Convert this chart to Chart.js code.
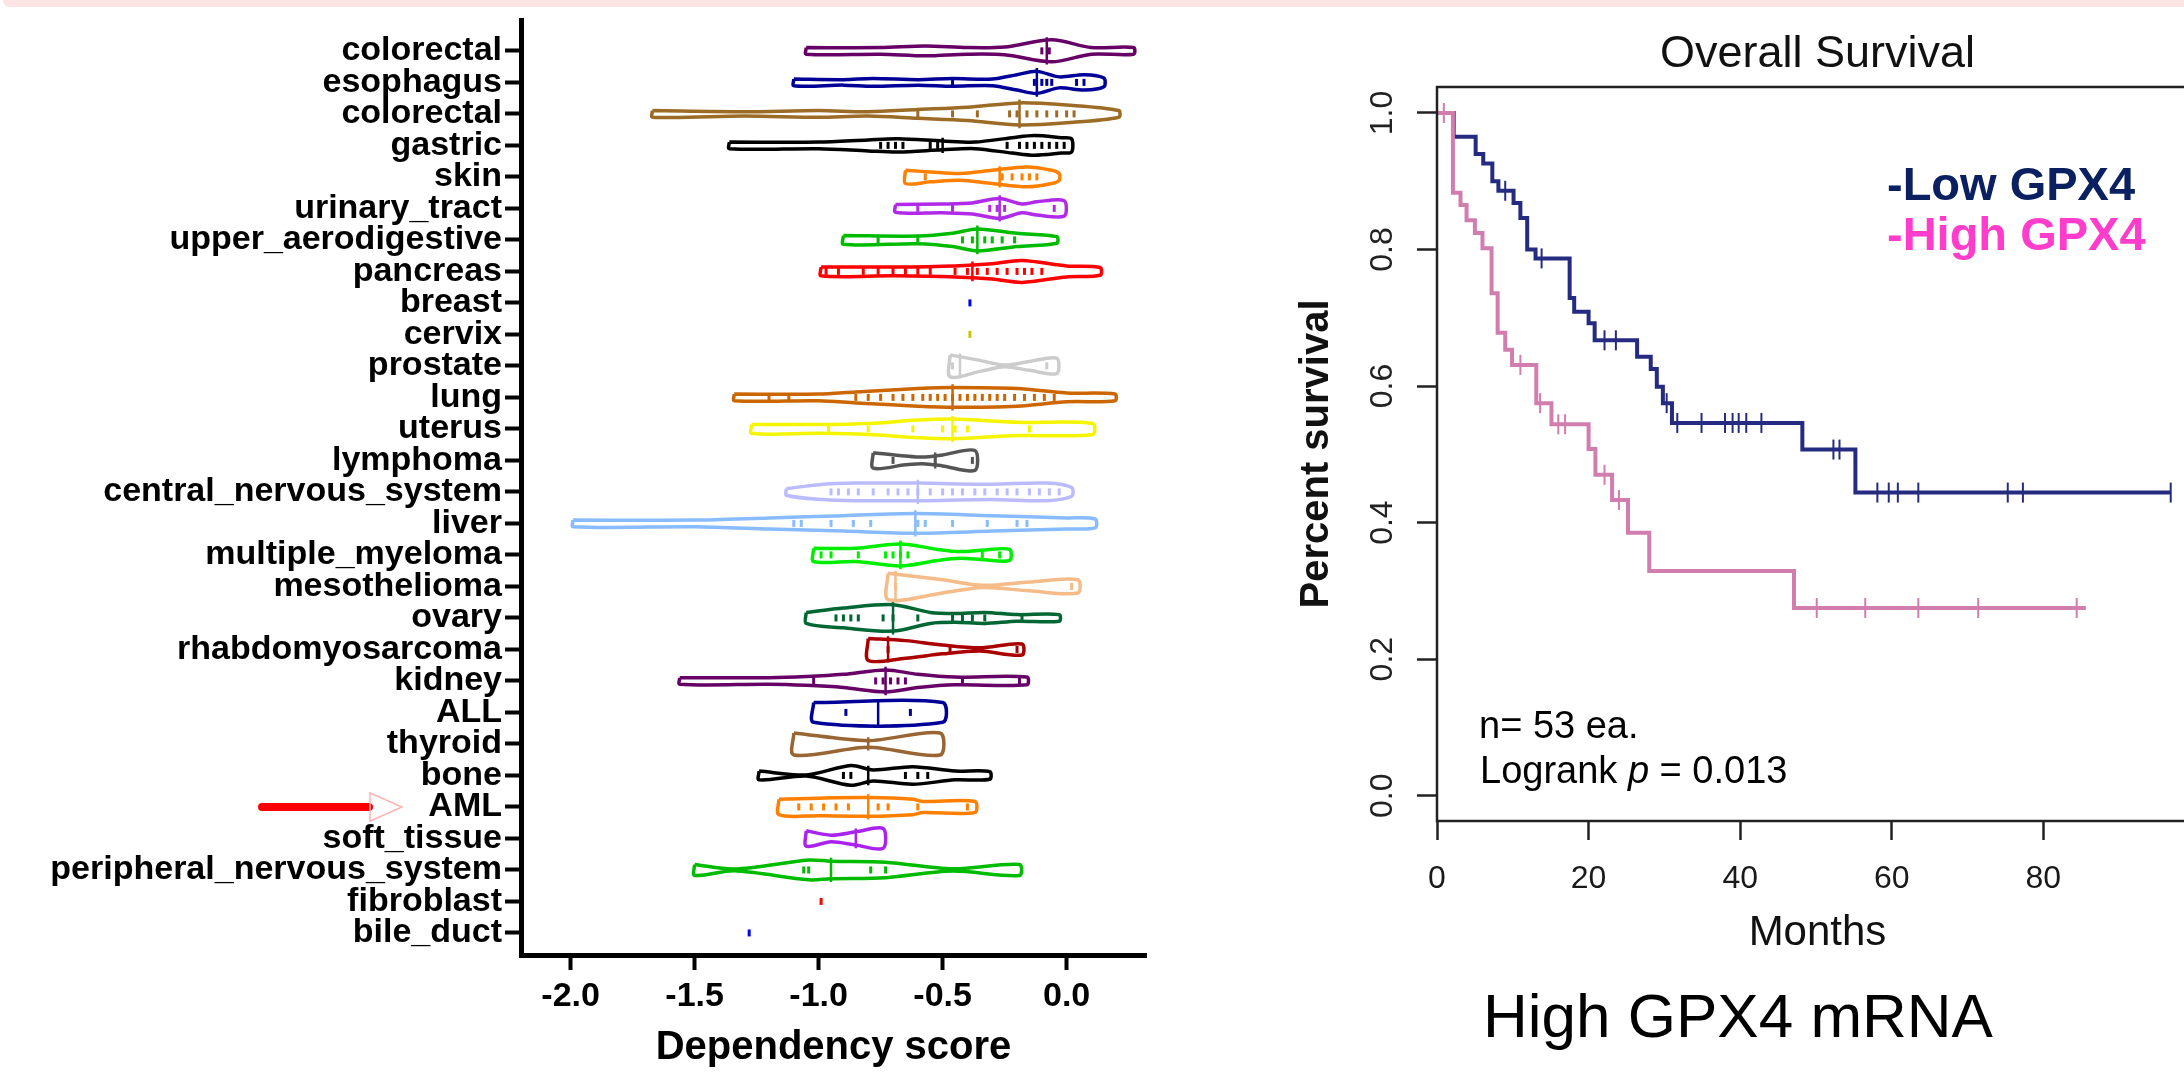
<!DOCTYPE html>
<html>
<head>
<meta charset="utf-8">
<script src="https://cdn.jsdelivr.net/npm/chart.js@4.4.0/dist/chart.umd.min.js"></script>
<style>
  html, body { margin: 0; padding: 0; background: #fff; overflow: hidden; }
  #page { position: relative; width: 2184px; height: 1072px; overflow: hidden; font-family: "Liberation Sans", Arial, sans-serif; }
  .band { position: absolute; left: 3px; top: 0; width: 2181px; height: 7px; background: #fde4e4; border-bottom-left-radius: 10px; }
  #violin { position: absolute; left: 0; top: 0; width: 1160px; height: 1072px; }
  #km { position: absolute; left: 1240px; top: 0; width: 970px; height: 1072px; }
  .note { position: absolute; white-space: nowrap; line-height: 1; color: #000; }
</style>
</head>
<body>
<div id="page">
  <div class="band"></div>
  <canvas id="violin" width="1160" height="1072"></canvas>
  <canvas id="km" width="970" height="1072"></canvas>
  <svg style="position:absolute;left:0;top:0" width="520" height="1072">
    <line x1="262" y1="807" x2="369" y2="807" stroke="#ff0000" stroke-width="8" stroke-linecap="round"/>
    <polygon points="370,793 402,807 370,821" fill="none" stroke="#ffb4b4" stroke-width="1.5"/>
  </svg>
  <div class="note" style="left:1479px;top:706px;font-size:38px;">n= 53 ea.</div>
  <div class="note" style="left:1480px;top:751px;font-size:38px;">Logrank <i>p</i> = 0.013</div>
  <div class="note" style="left:1887px;top:160px;font-size:47px;font-weight:bold;color:#0a2060;">-Low GPX4</div>
  <div class="note" style="left:1887px;top:210px;font-size:47px;font-weight:bold;color:#ff3ccc;">-High GPX4</div>
  <div class="note" style="left:1483px;top:985px;font-size:62px;">High GPX4 mRNA</div>
</div>
<script>
Chart.defaults.font.family = '"Liberation Sans", Arial, sans-serif';
Chart.defaults.color = '#000';

// ---- left panel: dependency score by lineage ----
const categories = ["colorectal", "esophagus", "colorectal", "gastric", "skin", "urinary_tract",
  "upper_aerodigestive", "pancreas", "breast", "cervix", "prostate", "lung", "uterus", "lymphoma",
  "central_nervous_system", "liver", "multiple_myeloma", "mesothelioma", "ovary", "rhabdomyosarcoma",
  "kidney", "ALL", "thyroid", "bone", "AML", "soft_tissue", "peripheral_nervous_system",
  "fibroblast", "bile_duct"];

const medians = [-0.08, -0.12, -0.19, -0.5, -0.27, -0.27, -0.36, -0.38, null, null, -0.43, -0.46,
  -0.46, -0.53, -0.6, -0.61, -0.67, -0.69, -0.7, -0.72, -0.73, -0.76, -0.8, -0.8, -0.8, -0.85,
  -0.95, null, null];

// violin outline: [score, relative density]
const densities = [
  [[-1.05, 3], [-0.75, 3], [-0.57, 4.5], [-0.4, 3], [-0.25, 3.5], [-0.06, 10], [0.1, 3], [0.27, 3]],
  [[-1.1, 3], [-0.9, 2.5], [-0.78, 3.5], [-0.6, 2.5], [-0.46, 3.5], [-0.3, 3], [-0.2, 7], [-0.12, 10], [-0.03, 5], [0.07, 7], [0.15, 4]],
  [[-1.67, 3], [-1.3, 2], [-1.0, 3], [-0.8, 2], [-0.6, 4], [-0.4, 6], [-0.19, 10], [0.0, 8], [0.21, 3]],
  [[-1.36, 3], [-1.0, 3], [-0.8, 5], [-0.68, 6], [-0.5, 4], [-0.37, 3], [-0.22, 7], [-0.13, 9], [-0.02, 7], [0.02, 6]],
  [[-0.65, 6], [-0.55, 4.5], [-0.43, 3], [-0.3, 6], [-0.16, 9], [-0.06, 6], [-0.03, 3]],
  [[-0.69, 3.5], [-0.5, 4], [-0.38, 5], [-0.27, 9], [-0.18, 4], [-0.12, 6], [-0.01, 7]],
  [[-0.9, 4], [-0.6, 3.5], [-0.46, 6], [-0.36, 10], [-0.2, 6], [-0.04, 3]],
  [[-0.99, 4], [-0.7, 4], [-0.45, 5], [-0.3, 7], [-0.18, 10], [0.0, 5], [0.135, 3.5]],
  null,
  null,
  [[-0.47, 10], [-0.35, 5], [-0.25, 0.8], [-0.15, 4], [-0.04, 7]],
  [[-1.34, 3], [-1.0, 3], [-0.85, 5], [-0.6, 8], [-0.46, 9], [-0.2, 8], [0.0, 4], [0.195, 3]],
  [[-1.27, 4], [-1.0, 4], [-0.8, 5], [-0.6, 8], [-0.46, 9], [-0.2, 6], [0.105, 5]],
  [[-0.78, 7], [-0.65, 4], [-0.58, 3], [-0.5, 5], [-0.37, 9]],
  [[-1.13, 3], [-0.98, 7], [-0.85, 8], [-0.6, 8], [-0.3, 7], [-0.08, 8], [0.02, 4]],
  [[-1.99, 3], [-1.5, 3], [-1.2, 5], [-0.9, 7], [-0.61, 9], [-0.3, 7], [0.0, 5], [0.115, 4]],
  [[-1.02, 6], [-0.85, 6], [-0.67, 10], [-0.52, 5], [-0.43, 3], [-0.33, 4.5], [-0.23, 5]],
  [[-0.72, 12], [-0.5, 6], [-0.34, 1], [-0.15, 4], [0.045, 6]],
  [[-1.05, 5], [-0.9, 9], [-0.7, 12], [-0.55, 5], [-0.45, 4], [-0.33, 5], [-0.2, 3], [-0.03, 3]],
  [[-0.8, 10], [-0.65, 8], [-0.5, 4], [-0.35, 1.5], [-0.18, 5]],
  [[-1.56, 3], [-1.2, 3], [-1.05, 4], [-0.9, 6], [-0.73, 10], [-0.6, 6], [-0.45, 3.5], [-0.16, 3.5]],
  [[-1.02, 9], [-0.5, 9]],
  [[-1.1, 10], [-0.8, 3], [-0.51, 10]],
  [[-1.24, 4], [-1.05, 0.5], [-0.87, 9], [-0.78, 5], [-0.62, 8], [-0.45, 4], [-0.31, 3.5]],
  [[-1.16, 7], [-1.0, 8], [-0.8, 8.5], [-0.62, 7], [-0.58, 5], [-0.37, 5]],
  [[-1.05, 7], [-0.95, 3], [-0.85, 6], [-0.74, 9]],
  [[-1.5, 5], [-1.34, 0.8], [-1.04, 9], [-0.95, 8], [-0.73, 7], [-0.46, 1], [-0.19, 5]],
  null,
  null
];

const cellLines = [
  [-0.1, -0.07],
  [-0.46, -0.13, -0.1, -0.08, -0.06, 0.04, 0.07],
  [-0.6, -0.46, -0.36, -0.23, -0.2, -0.16, -0.12, -0.08, -0.04, 0.0, 0.03],
  [-0.75, -0.72, -0.69, -0.66, -0.55, -0.52, -0.24, -0.19, -0.16, -0.13, -0.1, -0.07, -0.04, -0.01],
  [-0.57, -0.26, -0.22, -0.18, -0.15, -0.12],
  [-0.6, -0.46, -0.31, -0.28, -0.25, -0.05],
  [-0.76, -0.6, -0.42, -0.38, -0.33, -0.3, -0.26, -0.21],
  [-0.97, -0.92, -0.82, -0.76, -0.7, -0.65, -0.6, -0.55, -0.45, -0.4, -0.36, -0.32, -0.28, -0.24, -0.2, -0.17, -0.14, -0.1],
  [-0.39],
  [-0.39],
  [-0.46, -0.08],
  [-1.2, -1.12, -0.85, -0.8, -0.75, -0.7, -0.66, -0.62, -0.58, -0.55, -0.52, -0.49, -0.46, -0.43, -0.4, -0.37, -0.34, -0.31, -0.28, -0.25, -0.21, -0.17, -0.13, -0.09, -0.05],
  [-0.96, -0.8, -0.62, -0.5, -0.45, -0.4, -0.15],
  [-0.7, -0.53, -0.38],
  [-0.95, -0.92, -0.88, -0.84, -0.78, -0.72, -0.68, -0.64, -0.6, -0.55, -0.5, -0.46, -0.42, -0.37, -0.33, -0.28, -0.24, -0.2, -0.15, -0.11, -0.07, -0.03],
  [-1.1, -1.07, -0.95, -0.86, -0.79, -0.6, -0.57, -0.46, -0.32, -0.2, -0.16],
  [-0.99, -0.95, -0.84, -0.73, -0.7, -0.67, -0.64, -0.34, -0.27],
  [-0.69, 0.02],
  [-0.93, -0.9, -0.87, -0.84, -0.74, -0.7, -0.6, -0.46, -0.42, -0.38, -0.33, -0.18],
  [-0.72, -0.47, -0.2],
  [-1.02, -0.77, -0.74, -0.71, -0.68, -0.65, -0.42, -0.19],
  [-0.89, -0.63],
  [],
  [-0.9, -0.87, -0.65, -0.6, -0.56],
  [-1.08, -1.03, -0.98, -0.93, -0.88, -0.76, -0.72, -0.6, -0.4],
  [],
  [-1.06, -1.04, -0.79, -0.73],
  [-0.99],
  [-1.28]
];

const scoreTicks = [-2.0, -1.5, -1.0, -0.5, 0.0];

const lineageColors = ["#660066", "#000099", "#9c6b25", "#000000", "#ff8000", "#b02ae8", "#00bb00",
  "#ff0000", "#0000ff", "#c8c800", "#cccccc", "#cc6600", "#f5f500", "#555555", "#bbbbff", "#88bbff",
  "#00ee00", "#f5bb88", "#006633", "#aa0000", "#660066", "#000099", "#996633", "#000000", "#ff8000",
  "#aa22ee", "#00bb00", "#ff0000", "#0000ff"];

const rowScale = 1.1 / 31.5;

function widthAt(prof, v) {
  for (let j = 1; j < prof.length; j++) {
    if (v <= prof[j][0]) {
      const [v0, d0] = prof[j - 1];
      const [v1, d1] = prof[j];
      return d0 + (d1 - d0) * (v - v0) / (v1 - v0);
    }
  }
  return prof[prof.length - 1][1];
}

const violinSets = [];
categories.forEach((name, i) => {
  const prof = densities[i];
  const color = lineageColors[i];
  if (prof) {
    const upper = prof.map(([v, d]) => ({x: v, y: i - d * rowScale}));
    const lower = prof.slice().reverse().map(([v, d]) => ({x: v, y: i + d * rowScale}));
    violinSets.push({
      data: [...upper, ...lower, upper[0]],
      showLine: true, borderColor: color, borderWidth: 3.5, tension: 0.3,
      pointRadius: 0, fill: false
    });
    const h = (widthAt(prof, medians[i]) + 3) * rowScale;
    violinSets.push({
      data: [{x: medians[i], y: i - h}, {x: medians[i], y: i + h}],
      showLine: true, borderColor: color, borderWidth: 2.5, pointRadius: 0
    });
  }
  violinSets.push({
    data: cellLines[i].map(v => ({x: v, y: i})),
    pointStyle: 'line', rotation: 90, pointRadius: 3.5,
    borderColor: color, pointBorderWidth: 3, borderWidth: 3
  });
});

new Chart(document.getElementById('violin'), {
  type: 'scatter',
  data: {datasets: violinSets},
  options: {
    responsive: false, animation: false, devicePixelRatio: 1,
    layout: {padding: {top: 20, right: 14, bottom: 0, left: 0}},
    plugins: {legend: {display: false}, tooltip: {enabled: false}},
    scales: {
      x: {
        type: 'linear', min: -2.2, max: 0.32,
        afterBuildTicks: s => { s.ticks = scoreTicks.map(v => ({value: v})); },
        afterFit: s => { s.height = 117; s.paddingLeft = 0; s.paddingRight = 0; },
        border: {display: true, width: 5, color: '#000'},
        grid: {drawOnChartArea: false, drawTicks: true, tickLength: 15, tickWidth: 4, tickColor: '#000'},
        ticks: {autoSkip: false, maxRotation: 0, padding: 6, color: '#000',
          font: {size: 34, weight: 'bold'}, callback: v => v.toFixed(1)},
        title: {display: true, text: 'Dependency score', color: '#000',
          font: {size: 40, weight: 'bold'}, padding: {top: 0, bottom: 0}}
      },
      y: {
        type: 'linear', reverse: true, min: -0.98, max: 28.7,
        afterBuildTicks: s => { s.ticks = categories.map((c, i) => ({value: i})); },
        afterFit: s => { s.width = 521; s.paddingTop = 0; s.paddingBottom = 0; },
        border: {display: true, width: 5, color: '#000'},
        grid: {drawOnChartArea: false, drawTicks: true, tickLength: 16, tickWidth: 4, tickColor: '#000'},
        ticks: {autoSkip: false, padding: 3, color: '#000', font: {size: 34, weight: 'bold'},
          callback: v => categories[Math.round(v)]}
      }
    }
  }
});

// ---- right panel: overall survival ----
const lowMonths   = [0, 2.2, 5.1, 6.1, 7.3, 8.1, 10.1, 11.0, 11.9, 13.0, 17.5, 18.1, 20.0, 20.8, 26.4, 28.2, 29.0, 29.8, 31.0, 48.2, 55.2, 96.8];
const lowSurvival = [1.0, 0.965, 0.94, 0.926, 0.90, 0.886, 0.868, 0.846, 0.80, 0.787, 0.729, 0.709, 0.692, 0.667, 0.643, 0.625, 0.599, 0.575, 0.546, 0.507, 0.444, 0.444];
const lowCensored = [9.0, 13.8, 22.1, 23.6, 30.3, 31.7, 34.9, 38.0, 39.0, 39.8, 40.8, 42.8, 52.3, 53.1, 58.1, 59.6, 60.8, 63.5, 75.3, 77.3, 96.8];

const highMonths   = [0, 2.1, 3.1, 3.9, 5.0, 6.0, 7.2, 8.0, 9.0, 9.9, 13.1, 15.1, 20.0, 20.9, 23.1, 25.2, 28.0, 47.1, 85.6];
const highSurvival = [1.0, 0.883, 0.865, 0.843, 0.824, 0.802, 0.736, 0.678, 0.653, 0.631, 0.575, 0.544, 0.508, 0.47, 0.433, 0.385, 0.329, 0.275, 0.275];
const highCensored = [0.9, 11.0, 13.6, 16.0, 16.9, 22.1, 24.0, 50.1, 56.5, 63.5, 71.4, 84.4];

const monthTicks = [0, 20, 40, 60, 80];
const survivalTicks = [0.0, 0.2, 0.4, 0.6, 0.8, 1.0];

const lowColor = '#262b82';
const highColor = '#d17dae';

function levelAt(months, surv, t) {
  let s = surv[0];
  months.forEach((m, i) => { if (m <= t) s = surv[i]; });
  return s;
}

function curve(months, surv, color) {
  return {
    data: months.map((m, i) => ({x: m, y: surv[i]})),
    showLine: true, stepped: 'before', borderColor: color, borderWidth: 4, pointRadius: 0
  };
}
function censors(times, months, surv, color) {
  return {
    data: times.map(t => ({x: t, y: levelAt(months, surv, t)})),
    showLine: false, pointStyle: 'line', rotation: 90, pointRadius: 10,
    borderColor: color, pointBorderWidth: 2, borderWidth: 2
  };
}

const kmFrame = {
  id: 'kmFrame',
  afterDraw(chart) {
    const {ctx, chartArea: a} = chart;
    const ys = chart.scales.y;
    ctx.save();
    ctx.strokeStyle = '#222';
    ctx.lineWidth = 2.5;
    ctx.strokeRect(a.left, a.top, a.right - a.left, a.bottom - a.top);
    ctx.fillStyle = '#222';
    ctx.font = '32px "Liberation Sans", Arial, sans-serif';
    ctx.textAlign = 'center';
    ctx.textBaseline = 'alphabetic';
    ys.ticks.forEach(t => {
      ctx.save();
      ctx.translate(152, ys.getPixelForValue(t.value));
      ctx.rotate(-Math.PI / 2);
      ctx.fillText(t.value.toFixed(1), 0, 0);
      ctx.restore();
    });
    ctx.restore();
  }
};

new Chart(document.getElementById('km'), {
  type: 'scatter',
  data: {
    datasets: [
      curve(highMonths, highSurvival, highColor),
      curve(lowMonths, lowSurvival, lowColor),
      censors(highCensored, highMonths, highSurvival, highColor),
      censors(lowCensored, lowMonths, lowSurvival, lowColor)
    ]
  },
  options: {
    responsive: false, animation: false, devicePixelRatio: 1,
    layout: {padding: 0},
    plugins: {
      legend: {display: false}, tooltip: {enabled: false},
      title: {display: true, text: 'Overall Survival', color: '#111', fullSize: false,
        font: {size: 45, weight: 'normal'}, padding: {top: 28, bottom: 5}}
    },
    scales: {
      x: {
        type: 'linear', min: 0, max: 100.4,
        afterBuildTicks: s => { s.ticks = monthTicks.map(v => ({value: v})); },
        afterFit: s => { s.height = 251; s.paddingLeft = 0; s.paddingRight = 0; },
        border: {display: false},
        grid: {drawOnChartArea: false, drawTicks: true, tickLength: 19, tickWidth: 2.5, tickColor: '#222'},
        ticks: {autoSkip: false, maxRotation: 0, padding: 20, color: '#1a1a1a', font: {size: 32},
          callback: v => String(v)},
        title: {display: true, text: 'Months', color: '#111', font: {size: 42},
          padding: {top: 0, bottom: 113}}
      },
      y: {
        type: 'linear', min: -0.037, max: 1.038,
        afterBuildTicks: s => { s.ticks = survivalTicks.map(v => ({value: v})); },
        afterFit: s => { s.width = 197; s.paddingTop = 0; s.paddingBottom = 0; },
        border: {display: false},
        grid: {drawOnChartArea: false, drawTicks: true, tickLength: 20, tickWidth: 2.5, tickColor: '#222'},
        ticks: {display: false},
        title: {display: true, text: 'Percent survival', color: '#111',
          font: {size: 40, weight: 'bold'}, padding: {top: 53, bottom: 0}}
      }
    }
  },
  plugins: [kmFrame]
});
</script>
</body>
</html>
